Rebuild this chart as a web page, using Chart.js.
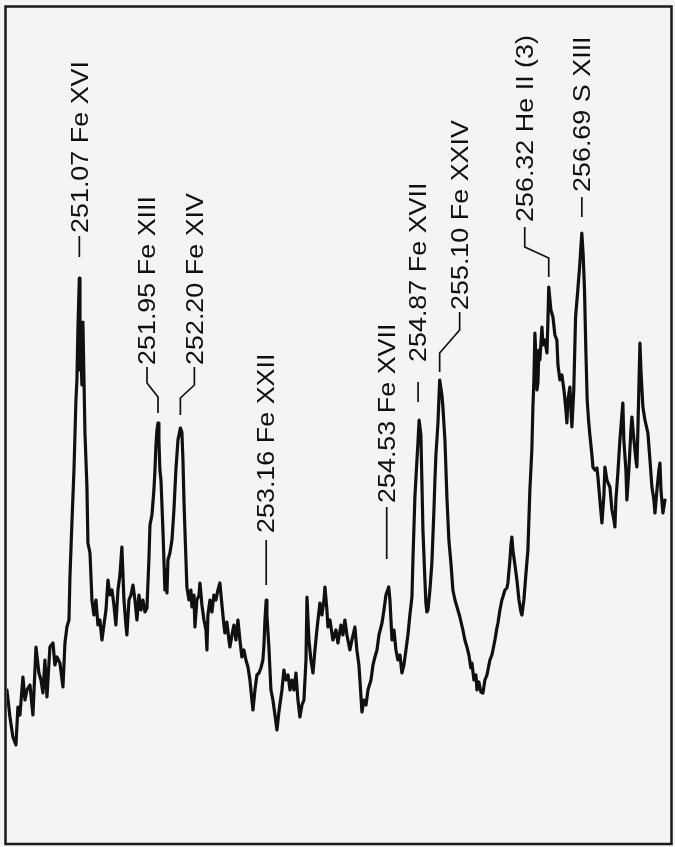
<!DOCTYPE html>
<html>
<head>
<meta charset="utf-8">
<title>Spectrum 250–258 Å</title>
<script src="https://cdn.jsdelivr.net/npm/chart.js@4.4.1/dist/chart.umd.min.js"></script>
<style>
  html, body { margin: 0; padding: 0; background: #f4f4f4; }
  #wrap { width: 675px; height: 847px; position: relative; }
</style>
</head>
<body>
<div id="wrap"><canvas id="chart" width="675" height="847"></canvas></div>
<script>
// Wavelength range of the scan (Å) and intensity range (arbitrary counts)
const wavelengthRange = [250.261, 257.665];
const intensityRange = [0, 835];

// Measured spectrum: [wavelength (Å), intensity (counts)]
const spectrum = [
  [250.260,151],[250.294,124],[250.327,104],[250.361,96],[250.383,134],[250.406,126],[250.439,164],[250.462,141],
  [250.484,151],[250.518,156],[250.551,126],[250.585,194],[250.618,168],[250.641,161],[250.663,148],[250.685,181],
  [250.708,144],[250.741,194],[250.775,198],[250.797,176],[250.820,184],[250.853,178],[250.887,154],[250.909,198],
  [250.931,214],[250.954,221],[250.965,264],[250.976,291],[250.987,318],[251.010,371],[251.032,441],[251.043,461],
  [251.054,511],[251.070,563],[251.077,471],[251.088,486],[251.099,456],[251.110,519],[251.122,461],[251.133,408],
  [251.155,354],[251.166,298],[251.189,288],[251.211,241],[251.233,226],[251.256,241],[251.278,216],[251.300,221],
  [251.323,201],[251.345,216],[251.368,231],[251.390,261],[251.412,246],[251.435,251],[251.457,236],[251.479,216],
  [251.502,251],[251.524,266],[251.546,294],[251.569,241],[251.591,216],[251.602,206],[251.625,241],[251.647,246],
  [251.670,256],[251.692,241],[251.714,221],[251.737,246],[251.759,231],[251.781,241],[251.804,229],[251.826,233],
  [251.848,281],[251.860,316],[251.882,326],[251.904,351],[251.916,371],[251.927,396],[251.938,411],[251.950,418],
  [251.960,401],[251.971,371],[251.983,361],[252.005,311],[252.027,251],[252.038,271],[252.050,248],[252.061,281],
  [252.083,288],[252.106,301],[252.128,331],[252.150,371],[252.173,401],[252.200,413],[252.217,409],[252.229,381],
  [252.240,341],[252.251,311],[252.273,254],[252.296,241],[252.318,251],[252.329,234],[252.352,246],[252.363,214],
  [252.385,241],[252.408,246],[252.419,258],[252.441,236],[252.464,221],[252.486,211],[252.497,191],[252.508,226],
  [252.531,241],[252.553,229],[252.575,246],[252.598,241],[252.620,251],[252.642,258],[252.665,236],[252.687,216],
  [252.698,208],[252.720,219],[252.743,201],[252.754,194],[252.777,206],[252.799,216],[252.821,201],[252.844,221],
  [252.866,201],[252.888,184],[252.911,191],[252.933,181],[252.956,174],[252.978,161],[253.000,141],[253.012,131],
  [253.034,151],[253.056,166],[253.079,168],[253.101,173],[253.123,181],[253.135,196],[253.146,221],[253.160,241],
  [253.168,226],[253.190,194],[253.213,151],[253.235,141],[253.258,126],[253.280,111],[253.302,129],[253.336,151],
  [253.358,171],[253.381,161],[253.404,166],[253.426,151],[253.448,161],[253.470,151],[253.493,168],[253.515,141],
  [253.537,124],[253.560,136],[253.582,141],[253.605,181],[253.616,244],[253.638,201],[253.660,181],[253.683,168],
  [253.705,191],[253.727,211],[253.739,221],[253.761,238],[253.783,226],[253.806,241],[253.817,254],[253.839,231],
  [253.850,214],[253.873,221],[253.906,201],[253.940,211],[253.962,198],[253.996,216],[254.018,206],[254.040,221],
  [254.063,206],[254.096,191],[254.119,201],[254.152,214],[254.174,191],[254.197,176],[254.208,161],[254.231,129],
  [254.253,141],[254.276,136],[254.298,151],[254.332,161],[254.354,176],[254.376,184],[254.399,191],[254.421,206],
  [254.455,218],[254.477,231],[254.499,246],[254.530,254],[254.544,241],[254.567,201],[254.589,211],[254.611,191],
  [254.633,181],[254.656,186],[254.678,168],[254.700,176],[254.723,191],[254.745,206],[254.767,226],[254.790,244],
  [254.801,281],[254.823,344],[254.846,381],[254.857,398],[254.870,421],[254.890,406],[254.901,361],[254.913,311],
  [254.935,261],[254.946,238],[254.957,229],[254.969,231],[254.991,251],[255.013,278],[255.036,331],[255.047,361],
  [255.058,386],[255.069,401],[255.081,418],[255.100,461],[255.125,446],[255.136,434],[255.159,401],[255.181,344],
  [255.203,301],[255.226,278],[255.248,251],[255.271,241],[255.304,231],[255.326,224],[255.360,211],[255.382,201],
  [255.405,194],[255.427,186],[255.449,173],[255.461,178],[255.483,161],[255.506,166],[255.517,151],[255.539,159],
  [255.561,149],[255.584,148],[255.606,161],[255.629,166],[255.640,171],[255.662,181],[255.684,186],[255.696,191],
  [255.718,201],[255.740,213],[255.752,218],[255.774,231],[255.796,241],[255.807,244],[255.830,251],[255.852,253],
  [255.863,258],[255.886,281],[255.897,296],[255.908,304],[255.919,291],[255.942,276],[255.964,261],[255.987,241],
  [256.009,229],[256.020,226],[256.042,241],[256.064,266],[256.087,291],[256.109,351],[256.131,391],[256.143,434],
  [256.154,461],[256.165,508],[256.176,486],[256.188,451],[256.199,458],[256.210,491],[256.221,481],[256.244,514],
  [256.255,496],[256.277,501],[256.300,488],[256.311,521],[256.320,554],[256.344,531],[256.367,524],[256.389,506],
  [256.411,501],[256.423,476],[256.445,461],[256.467,466],[256.490,451],[256.512,431],[256.523,418],[256.534,441],
  [256.557,454],[256.568,431],[256.579,414],[256.600,451],[256.620,524],[256.645,551],[256.665,574],[256.690,608],
  [256.705,586],[256.720,551],[256.735,491],[256.750,441],[256.765,421],[256.780,406],[256.803,386],[256.814,374],
  [256.837,371],[256.859,373],[256.870,364],[256.892,341],[256.915,318],[256.937,346],[256.948,374],[256.971,361],
  [256.993,356],[257.004,354],[257.027,331],[257.049,321],[257.060,314],[257.071,341],[257.093,368],[257.116,401],
  [257.138,426],[257.149,438],[257.160,401],[257.183,371],[257.194,341],[257.216,371],[257.239,411],[257.250,424],
  [257.273,401],[257.295,381],[257.306,374],[257.317,411],[257.340,498],[257.351,471],[257.373,434],[257.396,421],
  [257.429,408],[257.452,381],[257.474,354],[257.496,341],[257.508,328],[257.530,351],[257.552,371],[257.564,378],
  [257.575,351],[257.597,328],[257.620,341]
];

// Identified emission lines
const lineWavelengths = [251.07, 251.95, 252.20, 253.16, 254.53, 254.87, 255.10, 256.32, 256.69];
const lineIons = ['Fe XVI', 'Fe XIII', 'Fe XIV', 'Fe XXII', 'Fe XVII', 'Fe XVII', 'Fe XXIV', 'He II (3)', 'S XIII'];

// Label placement (pixels): rise = distance from peak to text start,
// dx = text offset from the line position, kink = leader bends over to the text,
// top/bottom = leader ends (below text start / above the peak)
const labelLayout = [
  { rise: 45, dx: 0,   kink: false, top: 3,  bottom: 21 },
  { rise: 58, dx: -11, kink: true,  top: 2,  bottom: 10, bendStart: 18, bendEnd: 32 },
  { rise: 63, dx: 14,  kink: true,  top: 2,  bottom: 13, bendStart: 20, bendEnd: 33 },
  { rise: 67, dx: 0,   kink: false, top: 7,  bottom: 15 },
  { rise: 84, dx: -2,  kink: false, top: 4,  bottom: 28 },
  { rise: 58, dx: -1,  kink: false, top: 20, bottom: 18 },
  { rise: 70, dx: 20,  kink: true,  top: 2,  bottom: 8,  bendStart: 20, bendEnd: 43 },
  { rise: 65, dx: -24, kink: true,  top: 5,  bottom: 10, bendStart: 25, bendEnd: 36 },
  { rise: 41, dx: 0,   kink: false, top: 5,  bottom: 16 }
];

const INK = '#101010';
const LABEL_FONT_SIZE = 23;
const LABEL_STRETCH = 1.17;

function peakIntensity(lambda) {
  let best = null, bestD = Infinity;
  for (const [w, c] of spectrum) {
    const d = Math.abs(w - lambda);
    if (d < bestD) { bestD = d; best = c; }
  }
  return best;
}

const lineLabels = {
  id: 'lineLabels',
  afterDatasetsDraw(chart) {
    const { ctx, scales } = chart;
    const xs = scales.x, ys = scales.y;
    ctx.save();
    ctx.strokeStyle = INK;
    ctx.fillStyle = INK;
    ctx.lineWidth = 1.7;
    ctx.lineCap = 'butt';
    ctx.font = LABEL_FONT_SIZE + 'px "Liberation Sans", Arial, Helvetica, sans-serif';
    const capH = LABEL_FONT_SIZE * 0.716;
    lineWavelengths.forEach((lambda, i) => {
      const L = labelLayout[i];
      const px = xs.getPixelForValue(lambda);
      const py = ys.getPixelForValue(peakIntensity(lambda));
      const tx = px + L.dx;
      const ts = py - L.rise;
      // leader line
      ctx.beginPath();
      if (L.kink) {
        ctx.moveTo(tx, ts + L.top);
        ctx.lineTo(tx, ts + L.bendStart);
        ctx.lineTo(px, ts + L.bendEnd);
        ctx.lineTo(px, py - L.bottom);
      } else {
        ctx.moveTo(tx, ts + L.top);
        ctx.lineTo(tx, py - L.bottom);
      }
      ctx.stroke();
      // rotated label, reading upward
      const text = lambda.toFixed(2) + ' ' + lineIons[i];
      ctx.save();
      ctx.translate(tx, ts);
      ctx.rotate(-Math.PI / 2);
      ctx.scale(LABEL_STRETCH, 1);
      ctx.textAlign = 'left';
      ctx.textBaseline = 'alphabetic';
      ctx.fillText(text, 0, capH / 2);
      ctx.restore();
    });
    ctx.restore();
  }
};

const frame = {
  id: 'frame',
  afterDraw(chart) {
    const { ctx, chartArea: a } = chart;
    ctx.save();
    ctx.strokeStyle = '#1a1a1a';
    ctx.lineWidth = 2.5;
    ctx.strokeRect(a.left - 1.5, a.top + 0.5, (a.right - a.left) + 4, (a.bottom - a.top) + 2.5);
    ctx.restore();
  }
};

new Chart(document.getElementById('chart'), {
  type: 'line',
  data: {
    datasets: [{
      label: 'Intensity',
      data: spectrum.map(([w, c]) => ({ x: w, y: c })),
      borderColor: INK,
      borderWidth: 3.2,
      pointRadius: 0,
      tension: 0,
      fill: false,
      borderJoinStyle: 'round',
      borderCapStyle: 'round'
    }]
  },
  options: {
    responsive: false,
    devicePixelRatio: 1,
    animation: false,
    layout: { padding: { left: 7, top: 6, right: 6, bottom: 6 } },
    plugins: { legend: { display: false }, tooltip: { enabled: false } },
    scales: {
      x: { type: 'linear', min: wavelengthRange[0], max: wavelengthRange[1], display: false },
      y: { type: 'linear', min: intensityRange[0], max: intensityRange[1], display: false }
    }
  },
  plugins: [lineLabels, frame]
});
</script>
</body>
</html>
